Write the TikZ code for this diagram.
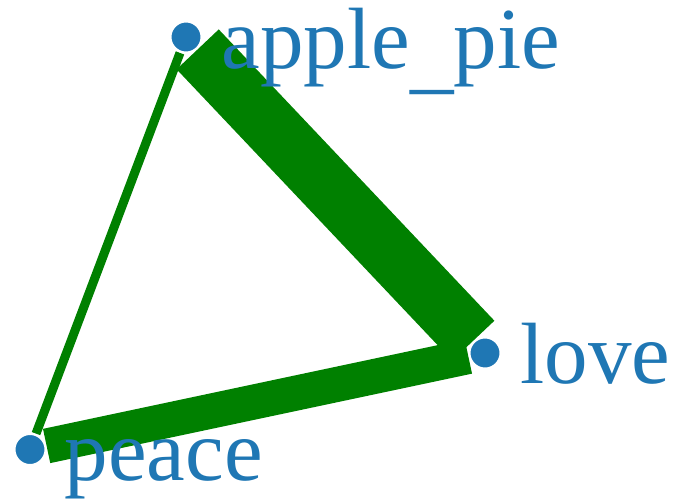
\documentclass[tikz,border=0pt]{standalone}
\usepackage{fontspec}
\setmainfont{Liberation Serif}
\usetikzlibrary{backgrounds}
\definecolor{nodeblue}{HTML}{1F77B4}
\definecolor{edgegreen}{HTML}{008000}
\begin{document}
\begin{tikzpicture}[x=1pt,y=-1pt,
  vertex/.style={circle, fill=nodeblue, draw=white, line width=2pt, minimum size=31pt, inner sep=0pt, outer sep=1.5pt},
  vlabel/.style={anchor=base west, inner sep=0pt, text=nodeblue, font=\fontsize{87}{87}\selectfont},
  link/.style={draw=edgegreen, line cap=butt}]
\useasboundingbox (0,0) rectangle (676,503);
\node[vertex] (apple) at (186,37) {};
\node[vertex] (love) at (485,353) {};
\node[vertex] (peace) at (30,449.5) {};
\begin{scope}[on background layer]
\draw[link, line width=58pt] (apple) -- (love);
\draw[link, line width=35pt] (peace) -- (love);
\draw[link, line width=9pt] (apple) -- (peace);
\end{scope}
\node[vlabel] (applelbl) at (221.5,68) {apple\raisebox{-15pt}{\char"5F}pie};
\node[vlabel] (lovelbl) at (520.5,383) {love};
\node[vlabel] (peacelbl) at (64.5,480) {peace};
\end{tikzpicture}
\end{document}
